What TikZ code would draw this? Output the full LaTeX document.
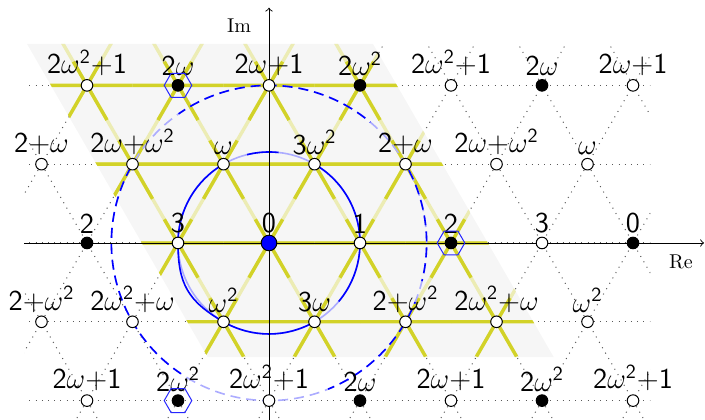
\documentclass[tikz,border=0pt]{standalone}
\usepackage{amsmath}
\usetikzlibrary{calc}
\definecolor{brightyel}{RGB}{210,210,40}
\definecolor{paleyel}{RGB}{236,236,180}
\definecolor{greybg}{RGB}{246,246,246}
\definecolor{paleblue}{RGB}{172,172,255}
\newcommand\om{$\omega$}
\newcommand\omm{$\omega^{\mathsf{2}}$}
\newcommand\LP[5]{\node[#4] (#1) at (#2,#3) {}; \node[lbl] (l#1) at ([yshift=4.5pt]#1.center) {#5};}
\tikzset{
 opt/.style={circle,draw=black,fill=white,line width=0.5pt,inner sep=0pt,minimum size=5.8pt},
 fpt/.style={circle,fill=black,draw=black,line width=0.5pt,inner sep=0pt,minimum size=5.8pt},
 bpt/.style={circle,fill=blue,draw=black,line width=0.5pt,inner sep=0pt,minimum size=7.8pt},
 lbl/.style={anchor=south,inner sep=0pt,font=\Large\sffamily},
 dotline/.style={line width=0.5pt,black!65,dash pattern=on 0.5pt off 2.6pt},
 paleline/.style={paleyel,line width=1.7pt},
 armline/.style={brightyel,line width=1.7pt},
 hexline/.style={blue!85,line width=0.5pt},
 solidc/.style={blue,line width=0.8pt},
 solidcpale/.style={paleblue,line width=0.8pt},
 dashc/.style={blue,line width=0.8pt,dash pattern=on 5pt off 3pt},
 dashcpale/.style={paleblue,line width=0.8pt,dash pattern=on 5pt off 3pt},
 axisline/.style={black,line width=0.45pt,->},
}
\begin{document}
\begin{tikzpicture}[x=45.5pt,y=45.5pt]
\useasboundingbox (-2.956,-1.945) rectangle (4.791,2.670);
% dotted lattice
\begin{scope}
\clip (-2.69,-1.95) rectangle (4.19,2.165);
\foreach \k in {-2,...,2} \draw[dotline] (-2.7,0.8660254*\k) -- (4.2,0.8660254*\k);
\foreach \n in {-8,...,9} {
  \draw[dotline] (\n-1.2124,-2.1) -- (\n+1.3279,2.3);
  \draw[dotline] (\n+1.2124,-2.1) -- (\n-1.3279,2.3);
}
\end{scope}
% grey fundamental domain
\coordinate (g1) at (-2.659,2.187);
\coordinate (g2) at (1.143,2.187);
\coordinate (g3) at (3.128,-1.253);
\coordinate (g4) at (-0.674,-1.253);
\fill[greybg] (g1) -- (g2) -- (g3) -- (g4) -- cycle;
\begin{scope}
\clip (g1) -- (g2) -- (g3) -- (g4) -- cycle;
\foreach \k in {-2,...,3} \draw[paleline] (-3,0.8660254*\k) -- (4.5,0.8660254*\k);
\foreach \n in {-8,...,9} {
  \draw[paleline] (\n-1.2124,-2.1) -- (\n+1.3279,2.3);
  \draw[paleline] (\n+1.2124,-2.1) -- (\n-1.3279,2.3);
}
\foreach \k in {-2,...,2} \foreach \m in {0,...,6} {
  \pgfmathsetmacro\xx{\m-2-0.5*mod(abs(\k),2)}
  \pgfmathsetmacro\yy{0.8660254*\k}
  \draw[armline] (\xx,\yy) +(0:0.5) -- +(180:0.5)
                 (\xx,\yy) +(60:0.3) -- +(240:0.44)
                 (\xx,\yy) +(120:0.3) -- +(300:0.44);
}
\end{scope}
% unit circle
\draw[solidcpale] (0,0) circle[radius=1];
\draw[solidc] (-40:1) arc[start angle=-40,end angle=60,radius=1];
\draw[solidc] (84:1) arc[start angle=84,end angle=104,radius=1];
\draw[solidc] (120:1) arc[start angle=120,end angle=180,radius=1]
   .. controls +(270:0.45) and +(150:0.45) .. (240:1)
   arc[start angle=240,end angle=300,radius=1];
% circle of radius sqrt 3
\draw[dashcpale] (0:1.7320508) arc[start angle=0,end angle=360,radius=1.7320508];
\draw[dashc,dash phase=4.77pt] (50:1.7320508) arc[start angle=50,end angle=125,radius=1.7320508];
\draw[dashc,dash phase=6.32pt] (150:1.7320508) arc[start angle=150,end angle=236,radius=1.7320508];
\draw[dashc,dash phase=1.64pt] (292:1.7320508) arc[start angle=292,end angle=338,radius=1.7320508];
\draw[dashc,dash phase=3.92pt] (346:1.7320508) arc[start angle=346,end angle=390,radius=1.7320508];
% axes
\coordinate (xs) at (-2.69,0);
\coordinate (xe) at (4.78,0);
\coordinate (ys) at (0,-1.95);
\coordinate (ye) at (0,2.585);
\draw[axisline] (xs) -- (xe);
\draw[axisline] (ys) -- (ye);
\node[anchor=base] (re) at (4.527,-0.275) {Re};
\node[anchor=base east] (im) at (-0.121,2.308) {Im};
% row 2
\LP{r2c0}{-2}{1.7320508}{opt}{2\omm+1}
\LP{r2c1}{-1}{1.7320508}{fpt}{2\om}
\LP{r2c2}{0}{1.7320508}{opt}{2\om+1}
\LP{r2c3}{1}{1.7320508}{fpt}{2\omm}
\LP{r2c4}{2}{1.7320508}{opt}{2\omm+1}
\LP{r2c5}{3}{1.7320508}{fpt}{2\om}
\LP{r2c6}{4}{1.7320508}{opt}{2\om+1}
% row 1
\LP{r1c0}{-2.5}{0.8660254}{opt}{2+\om}
\LP{r1c1}{-1.5}{0.8660254}{opt}{2\om+\omm}
\LP{r1c2}{-0.5}{0.8660254}{opt}{\om}
\LP{r1c3}{0.5}{0.8660254}{opt}{3\omm}
\LP{r1c4}{1.5}{0.8660254}{opt}{2+\om}
\LP{r1c5}{2.5}{0.8660254}{opt}{2\om+\omm}
\LP{r1c6}{3.5}{0.8660254}{opt}{\om}
% row 0
\LP{r0c0}{-2}{0}{fpt}{2}
\LP{r0c1}{-1}{0}{opt}{3}
\LP{r0c2}{0}{0}{bpt}{0}
\LP{r0c3}{1}{0}{opt}{1}
\LP{r0c4}{2}{0}{fpt}{2}
\LP{r0c5}{3}{0}{opt}{3}
\LP{r0c6}{4}{0}{fpt}{0}
% row -1
\LP{rmc0}{-2.5}{-0.8660254}{opt}{2+\omm}
\LP{rmc1}{-1.5}{-0.8660254}{opt}{2\omm+\om}
\LP{rmc2}{-0.5}{-0.8660254}{opt}{\omm}
\LP{rmc3}{0.5}{-0.8660254}{opt}{3\om}
\LP{rmc4}{1.5}{-0.8660254}{opt}{2+\omm}
\LP{rmc5}{2.5}{-0.8660254}{opt}{2\omm+\om}
\LP{rmc6}{3.5}{-0.8660254}{opt}{\omm}
% row -2
\LP{rnc0}{-2}{-1.7320508}{opt}{2\om+1}
\LP{rnc1}{-1}{-1.7320508}{fpt}{2\omm}
\LP{rnc2}{0}{-1.7320508}{opt}{2\omm+1}
\LP{rnc3}{1}{-1.7320508}{fpt}{2\om}
\LP{rnc4}{2}{-1.7320508}{opt}{2\om+1}
\LP{rnc5}{3}{-1.7320508}{fpt}{2\omm}
\LP{rnc6}{4}{-1.7320508}{opt}{2\omm+1}
% hexagons
\foreach \c in {r2c1,r0c4,rnc1}
  \draw[hexline] (\c.center) +(0:6.9pt) -- +(60:6.9pt) -- +(120:6.9pt) -- +(180:6.9pt)
        -- +(240:6.9pt) -- +(300:6.9pt) -- cycle;
\end{tikzpicture}
\end{document}
